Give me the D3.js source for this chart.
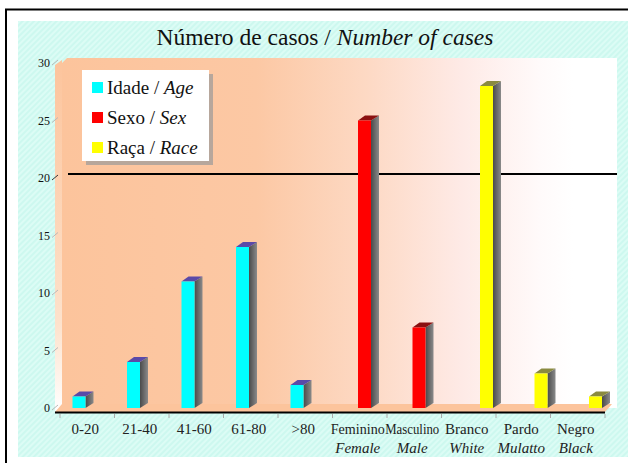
<!DOCTYPE html>
<html>
<head>
<meta charset="utf-8">
<script src="https://cdn.jsdelivr.net/npm/d3@7"></script>
<style>
  html, body { margin: 0; padding: 0; background: #fff; }
  svg { display: block; }
</style>
</head>
<body>
<svg id="chart" width="628" height="463"></svg>
<script>
// Categories (Portuguese first line, English second line)
const categories = ["0-20", "21-40", "41-60", "61-80", ">80", "Feminino", "Masculino", "Branco", "Pardo", "Negro"];
const categoriesEn = ["", "", "", "", "", "Female", "Male", "White", "Mulatto", "Black"];

// Series values per category
const seriesNames = ["age", "sex", "race"];
const ageValues  = [1, 4, 11, 14, 2, 0, 0, 0, 0, 0];
const sexValues  = [0, 0, 0, 0, 0, 25, 7, 0, 0, 0];
const raceValues = [0, 0, 0, 0, 0, 0, 0, 28, 3, 1];

// Legend labels
const legendPt = ["Idade / ", "Sexo / ", "Raça / "];
const legendEn = ["Age", "Sex", "Race"];

const yTicks = [0, 5, 10, 15, 20, 25, 30];
const refValue = 20;

const colors = { age: "#00ffff", sex: "#ff0000", race: "#ffff00" };
const topColors = { age: "#5a4aa8", sex: "#8a1010", race: "#8a8a40" };
const serif = "'Liberation Serif', 'Times New Roman', serif";

const svg = d3.select("#chart");
const defs = svg.append("defs");

// Diagonal hatch for the page background
const hatch = defs.append("pattern")
  .attr("id", "hatch").attr("patternUnits", "userSpaceOnUse")
  .attr("width", 4).attr("height", 4)
  .attr("patternTransform", "rotate(45)");
hatch.append("rect").attr("width", 4).attr("height", 4).attr("fill", "#cdf8ef");
hatch.append("rect").attr("width", 2).attr("height", 4).attr("fill", "#dcfcf5");

// Back wall gradient, peach to white
const wallGrad = defs.append("linearGradient").attr("id", "wallGrad")
  .attr("x1", "0%").attr("x2", "100%").attr("y1", "0%").attr("y2", "0%");
[[0, "#fcc49c"], [0.35, "#fcc8a4"], [0.55, "#fdd9c4"], [0.72, "#feeae6"], [0.86, "#fffafa"], [0.92, "#ffffff"], [1, "#ffffff"]]
  .forEach(([o, c]) => wallGrad.append("stop").attr("offset", o).attr("stop-color", c));

const sideGrad = defs.append("linearGradient").attr("id", "sideGrad")
  .attr("x1", "0%").attr("x2", "0%").attr("y1", "0%").attr("y2", "100%");
[[0, "#fcc49c"], [0.75, "#fde2cc"], [1, "#ffffff"]]
  .forEach(([o, c]) => sideGrad.append("stop").attr("offset", o).attr("stop-color", c));

const shadeGrad = defs.append("linearGradient").attr("id", "shadeGrad")
  .attr("x1", "0%").attr("x2", "100%").attr("y1", "0%").attr("y2", "0%");
[[0, "#4a4a4a"], [1, "#8a8a8a"]]
  .forEach(([o, c]) => shadeGrad.append("stop").attr("offset", o).attr("stop-color", c));

// Frame: page rule lines and hatched background
svg.append("rect").attr("x", 18).attr("y", 21).attr("width", 610).attr("height", 436)
  .attr("fill", "url(#hatch)");
svg.append("line").attr("x1", 5).attr("x2", 628).attr("y1", 9.5).attr("y2", 9.5)
  .attr("stroke", "#000").attr("stroke-width", 2);
svg.append("line").attr("x1", 6).attr("x2", 6).attr("y1", 9).attr("y2", 463)
  .attr("stroke", "#000").attr("stroke-width", 2);

// Scales
const plotLeft = 60, plotRight = 605;
const x = d3.scaleBand().domain(categories).range([plotLeft, plotRight]).padding(0);
const inner = d3.scaleBand().domain(seriesNames).range([12.5, 51.5]).padding(0);
const y = d3.scaleLinear().domain([0, 30]).range([408, 63]);
const depthX = 7, depthY = 5;

// Back wall, side wall and floor
svg.append("path")
  .attr("d", `M${plotLeft + 2},${y(30) - depthY + 5} L${plotLeft + 7},${y(30) - depthY} L617,${y(30) - depthY} L617,${y(0)} L${plotLeft + 2},${y(0)} Z`)
  .attr("fill", "url(#wallGrad)");
svg.append("path")
  .attr("d", `M${plotLeft - 5},${y(30) + 2} L${plotLeft + 2},${y(30) - 3} L${plotLeft + 2},${y(0)} L${plotLeft - 5},${y(0) + 4} Z`)
  .attr("fill", "url(#sideGrad)");
svg.append("path")
  .attr("d", `M${plotLeft - 5},${y(0) + 4} L${plotLeft + 2},${y(0) - 4} L612,${y(0) - 4} L605,${y(0) + 4} Z`)
  .attr("fill", "#fcc49c");

// Reference line on the back wall
svg.append("line")
  .attr("x1", plotLeft + 8).attr("x2", 617)
  .attr("y1", y(refValue) - 4).attr("y2", y(refValue) - 4)
  .attr("stroke", "#000").attr("stroke-width", 2);

// Y axis labels and slanted ticks
const yAxis = svg.append("g");
yAxis.selectAll("line").data(yTicks).join("line")
  .attr("x1", 52).attr("y1", d => y(d) + 2)
  .attr("x2", 58).attr("y2", d => y(d) - 3)
  .attr("stroke", d => d === refValue ? "#333" : "#b8b8b8").attr("stroke-width", 1);
yAxis.selectAll("text").data(yTicks).join("text")
  .attr("x", 50).attr("y", d => y(d)).attr("dy", "0.35em")
  .attr("text-anchor", "end")
  .attr("font-family", serif).attr("font-size", 12).attr("fill", "#111")
  .text(d => d);

// Bars
const seriesValues = { age: ageValues, sex: sexValues, race: raceValues };
const barData = [];
seriesNames.forEach(s => {
  seriesValues[s].forEach((v, i) => {
    if (v > 0) barData.push({ series: s, cat: categories[i], value: v });
  });
});

const bw = inner.bandwidth();
const bars = svg.append("g").selectAll("g").data(barData).join("g");
// side face (shadow)
bars.append("path")
  .attr("d", d => {
    const x0 = x(d.cat) + inner(d.series) + bw, yt = y(d.value), yb = y(0);
    return `M${x0},${yt} L${x0 + depthX + 1},${yt - depthY} L${x0 + depthX + 1},${yb - depthY} L${x0},${yb} Z`;
  })
  .attr("fill", "url(#shadeGrad)");
// top face
bars.append("path")
  .attr("d", d => {
    const x0 = x(d.cat) + inner(d.series), yt = y(d.value);
    return `M${x0},${yt} L${x0 + depthX},${yt - depthY} L${x0 + bw + depthX + 1},${yt - depthY} L${x0 + bw},${yt} Z`;
  })
  .attr("fill", d => topColors[d.series]);
// front face
bars.append("rect")
  .attr("x", d => x(d.cat) + inner(d.series))
  .attr("y", d => y(d.value))
  .attr("width", bw)
  .attr("height", d => y(0) - y(d.value))
  .attr("fill", d => colors[d.series]);

// X axis line and ticks
svg.append("line").attr("x1", plotLeft - 5).attr("x2", plotRight).attr("y1", 412.5).attr("y2", 412.5)
  .attr("stroke", "#000").attr("stroke-width", 2);
svg.append("g").selectAll("line").data(categories.concat(["end"])).join("line")
  .attr("x1", (d, i) => plotLeft + i * x.bandwidth())
  .attr("x2", (d, i) => plotLeft + i * x.bandwidth())
  .attr("y1", 414).attr("y2", 418)
  .attr("stroke", "#aaa");

// X labels
const xl = svg.append("g");
xl.selectAll("text.pt").data(categories).join("text")
  .attr("class", "pt")
  .attr("x", d => x(d) + x.bandwidth() / 2 - 2).attr("y", 434)
  .attr("text-anchor", "middle")
  .attr("font-family", serif).attr("font-size", 15).attr("fill", "#222")
  .attr("textLength", d => d.length > 7 ? 54 : null)
  .attr("lengthAdjust", "spacingAndGlyphs")
  .text(d => d);
xl.selectAll("text.en").data(categoriesEn.map((t, i) => ({ t, c: categories[i] })).filter(d => d.t)).join("text")
  .attr("class", "en")
  .attr("x", d => x(d.c) + x.bandwidth() / 2 - 2).attr("y", 453)
  .attr("text-anchor", "middle")
  .attr("font-family", serif).attr("font-size", 15).attr("font-style", "italic").attr("fill", "#222")
  .text(d => d.t);

// Title
const title = svg.append("text")
  .attr("x", 325).attr("y", 45).attr("text-anchor", "middle")
  .attr("font-family", serif).attr("font-size", 23.5).attr("fill", "#111");
title.append("tspan").text("Número de casos / ");
title.append("tspan").attr("font-style", "italic").text("Number of cases");

// Legend
const lg = svg.append("g");
lg.append("rect").attr("x", 86).attr("y", 74).attr("width", 127).attr("height", 91).attr("fill", "#9a9a9a").attr("opacity", 0.7);
lg.append("rect").attr("x", 82).attr("y", 70).attr("width", 127).attr("height", 91).attr("fill", "#fff");
const items = lg.selectAll("g").data(seriesNames).join("g")
  .attr("transform", (d, i) => `translate(0, ${87.5 + i * 30})`);
items.append("rect").attr("x", 92).attr("y", -5.5).attr("width", 11).attr("height", 11)
  .attr("fill", d => colors[d]);
const lt = items.append("text").attr("x", 107).attr("y", 0).attr("dy", "0.35em")
  .attr("font-family", serif).attr("font-size", 19).attr("fill", "#111");
lt.append("tspan").text((d, i) => legendPt[i]);
lt.append("tspan").attr("font-style", "italic").text((d, i) => legendEn[i]);
</script>
</body>
</html>
